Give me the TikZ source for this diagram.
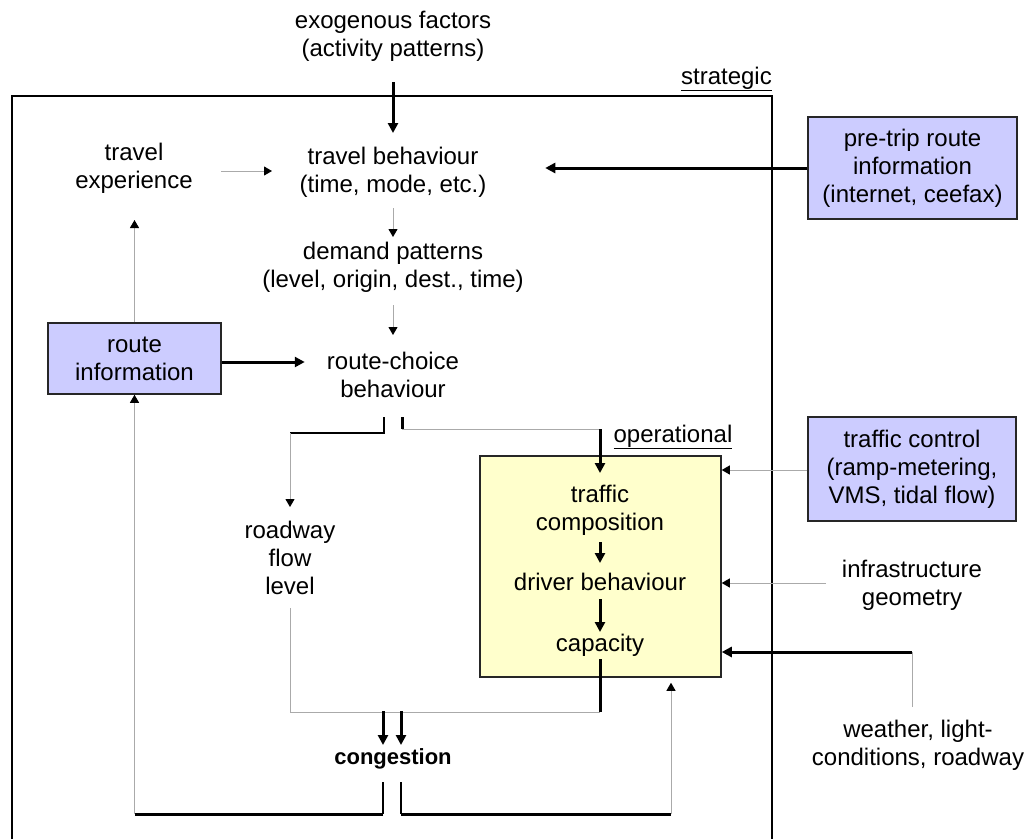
\documentclass[tikz,border=0pt]{standalone}
\usepackage{fontspec}
\setmainfont{Liberation Sans}
\usepackage{xcolor}
\usetikzlibrary{arrows.meta, positioning}
\definecolor{infoblue}{RGB}{204,204,255}
\definecolor{opsyellow}{RGB}{255,255,204}
\definecolor{linegray}{RGB}{170,170,170}

\begin{document}
\begin{tikzpicture}[x=1pt, y=-1pt, font=\fontsize{24}{28}\selectfont,
    lbl/.style={align=center, inner sep=0pt},
    infobox/.style={draw=black!85, line width=1.5pt, fill=infoblue, align=center, inner sep=0pt},
    heavy/.style={line width=3pt, -{Triangle[length=10pt, width=10pt]}},
    light/.style={draw=linegray, line width=1pt, -{Triangle[length=8pt, width=9pt, color=black]}},
    bar/.style={line width=3pt},
    gline/.style={draw=linegray, line width=1pt}]
      \useasboundingbox (0,0) rectangle (1036,839);

      % strategic frame
      \draw[line width=1.5pt] (12,839) |- (772,96) -- (772,839);
      \node[lbl, anchor=east] (strat) at (772,79) {\underline{strategic}};

      \node[lbl] (exo) at (393,36) {exogenous factors\\(activity patterns)};
      \node[lbl] (tb) at (393,172) {travel behaviour\\(time, mode, etc.)};
      \node[lbl] (texp) at (134,168) {travel\\experience};
      \node[lbl] (dem) at (393,267) {demand patterns\\(level, origin, dest., time)};
      \node[lbl] (rcb) at (393,375) {route-choice\\behaviour};
      \node[lbl] (rfl) at (290,558) {roadway\\flow\\level};
      \node[lbl, font=\fontsize{22}{26}\selectfont\bfseries] (cong) at (393,759) {congestion};

      \node[infobox, minimum width=173pt, minimum height=71pt] (rinfo) at (134.5,358.5) {route\\information};
      \node[infobox, minimum width=209pt, minimum height=102pt] (pretrip) at (912.5,168)
            {pre-trip route\\information\\(internet, ceefax)};
      \node[infobox, minimum width=208pt, minimum height=104pt] (tctrl) at (912,469)
            {traffic control\\(ramp-metering,\\VMS, tidal flow)};
      \node[lbl] (infra) at (912,585) {infrastructure\\geometry};
      \node[lbl] (wthr) at (918,745) {weather, light-\\conditions, roadway};

      % operational block
      \node[draw=black!85, line width=1.5pt, fill=opsyellow, minimum width=241pt, minimum height=221pt]
            (ops) at (600.5,566.5) {};
      \node[lbl] (oper) at (673,437) {\underline{operational}};
      \node[lbl] (tcomp) at (600,510) {traffic\\composition};
      \node[lbl] (drv) at (600,582) {driver behaviour};
      \node[lbl] (cap) at (600,645) {capacity};

      % free ends and bends
      \coordinate (texp-tail) at (221,171);
      \coordinate (splitL) at (384,433);
      \coordinate (splitR) at (402,429);
      \coordinate (infra-tail) at (826,583);
      \coordinate (wthr-tail) at (912,707);
      \coordinate (fb-right) at (671,814);

      \draw[heavy] (exo |- 0,82) -- (tb |- 0,133);
      \draw[light] (texp-tail) -- ++(51,0);
      \draw[light] (tb |- 0,208) -- (dem |- 0,237);
      \draw[light] (dem |- 0,305) -- (rcb |- 0,335);
      \draw[heavy] ([yshift=-3.5pt]rinfo.east) -- ++(83,0);
      \draw[heavy] (pretrip.west) -- ++(-262,0);
      \draw[light] (rinfo.north) -- (rinfo.north |- 0,220);

      % split below route choice
      \draw[line width=2pt] (splitL |- 0,417) -- (splitL) -- (splitL -| rfl);
      \draw[light] (splitL -| rfl) -- (rfl |- 0,507);
      \draw[bar] (splitR |- 0,417) -- (splitR);
      \draw[gline] (splitR) -- (splitR -| tcomp);
      \draw[heavy] (splitR -| tcomp) -- (tcomp |- 0,473);

      \draw[heavy] (tcomp |- 0,542) -- (tcomp |- 0,563);
      \draw[heavy] (drv |- 0,599) -- (drv |- 0,632);

      % towards congestion
      \draw[bar] (cap |- 0,659) -- (cap |- 0,712) coordinate (capjoin);
      \draw[gline] (rfl |- 0,608) -- (rfl |- 0,712) -- (capjoin);
      \draw[heavy] (cong) ++(-10,-48) -- ++(0,34);
      \draw[heavy] (cong) ++(8,-48) -- ++(0,34);

      % feedback from congestion
      \draw[line width=1.2pt] (cong) ++(-10,23) -- ++(0,32) coordinate (congL);
      \draw[bar] (congL) -- (congL -| rinfo);
      \draw[light] (congL -| rinfo) -- (rinfo.south);
      \draw[line width=1.2pt] (cong) ++(8,23) -- ++(0,32) coordinate (congR);
      \draw[bar] (congR) -- (fb-right);
      \draw[light, shorten >=5pt] (fb-right) -- (fb-right |- ops.south);

      % external inputs
      \draw[light] (tctrl.west |- 0,470) -- (ops.east |- 0,470);
      \draw[light] (infra-tail) -- (ops.east |- infra-tail);
      \draw[gline] (wthr-tail) -- ++(0,-55) coordinate (wthr-bend);
      \draw[heavy] (wthr-bend) -- (ops.east |- wthr-bend);
    \end{tikzpicture}
\end{document}
